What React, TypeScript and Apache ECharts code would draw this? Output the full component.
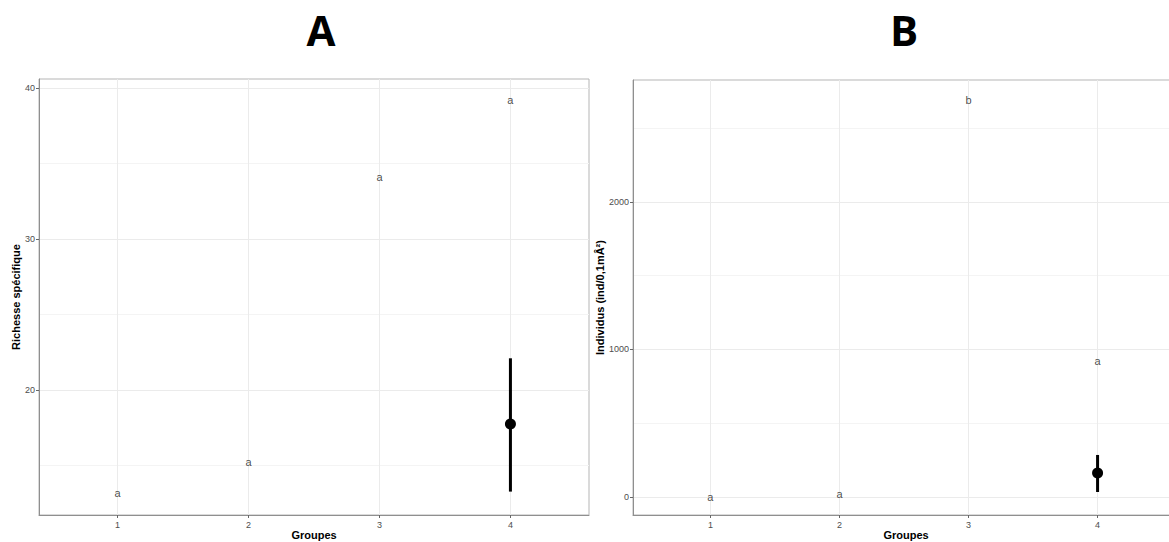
import React, { useEffect, useRef } from "react";
import * as echarts from "echarts";

// Groups on the x axis
const groups = [1, 2, 3, 4];
const xTitle = "Groupes";

// Panel A: species richness
const richLetters = ["a", "a", "a", "a"];
const richLetterY = [13.2, 15.2, 34.1, 39.2];
const richPointGroup = 4;
const richMean = 17.75;
const richLow = 13.27;
const richHigh = 22.1;
const richTicks = [20, 30, 40];
const richMinor = [15, 25, 35];

// Panel B: abundance
const indLetters = ["a", "a", "b", "a"];
const indLetterY = [0, 20, 2690, 920];
const indPointGroup = 4;
const indMean = 163;
const indLow = 34;
const indHigh = 285;
const indTicks = [0, 1000, 2000];
const indMinor = [500, 1500, 2500];

const FONT = "'Liberation Sans', Arial, sans-serif";

export default function App() {
  const ref = useRef<HTMLDivElement>(null);

  useEffect(() => {
    if (!ref.current) return;
    const chart = echarts.init(ref.current, null, { renderer: "svg" });

    const tickLabel = { color: "#4d4d4d", fontSize: 9, fontFamily: FONT, formatter: (v: number) => String(v) };
    const axisTitle = { color: "#000", fontSize: 11, fontWeight: "bold" as const, fontFamily: FONT };
    const borderCol = "#8f8f8f";

    const xAxes = [0, 1].map((i) => ({
      type: "value" as const,
      gridIndex: i,
      min: 0.4,
      max: 4.6,
      axisLine: { show: true, onZero: false, lineStyle: { color: borderCol, width: 1 } },
      axisTick: { show: true, length: 3, customValues: groups, lineStyle: { color: "#666" } },
      axisLabel: { ...tickLabel, customValues: groups, margin: 5 },
      splitLine: { show: true, lineStyle: { color: "#ebebeb", width: 1 } },
    }));

    const majorY = (grid: number, min: number, max: number, ticks: number[], name: string, gap: number) => ({
      type: "value" as const,
      gridIndex: grid,
      min,
      max,
      axisLine: { show: true, onZero: false, lineStyle: { color: borderCol, width: 1 } },
      axisTick: { show: true, length: 3, customValues: ticks, lineStyle: { color: "#666" } },
      axisLabel: { ...tickLabel, customValues: ticks, margin: 4 },
      splitLine: { show: true, lineStyle: { color: "#ebebeb", width: 1 } },
      name,
      nameLocation: "middle" as const,
      nameGap: gap,
      nameTextStyle: axisTitle,
    });

    const minorY = (grid: number, min: number, max: number, ticks: number[]) => ({
      type: "value" as const,
      gridIndex: grid,
      min,
      max,
      position: "left" as const,
      axisLine: { show: false, onZero: false },
      axisTick: { show: false, customValues: ticks },
      axisLabel: { show: false, customValues: ticks },
      splitLine: { show: true, lineStyle: { color: "#f4f4f4", width: 1 } },
    });

    const letterSeries = (xi: number, yi: number, ys: number[], letters: string[]) => ({
      type: "scatter" as const,
      xAxisIndex: xi,
      yAxisIndex: yi,
      symbolSize: 1,
      itemStyle: { color: "rgba(0,0,0,0)" },
      data: groups.map((g, i) => [g, ys[i], letters[i]]),
      label: {
        show: true,
        position: "inside" as const,
        formatter: (p: any) => p.data[2],
        color: "#1a1a1a",
        fontSize: 11,
        fontFamily: FONT,
      },
      z: 5,
    });

    const errSeries = (xi: number, yi: number, g: number, lo: number, hi: number) => ({
      type: "line" as const,
      xAxisIndex: xi,
      yAxisIndex: yi,
      data: [
        [g, lo],
        [g, hi],
      ],
      symbol: "none",
      lineStyle: { color: "#000", width: 3 },
      z: 3,
    });

    const pointSeries = (xi: number, yi: number, g: number, m: number) => ({
      type: "scatter" as const,
      xAxisIndex: xi,
      yAxisIndex: yi,
      data: [[g, m]],
      symbolSize: 11,
      itemStyle: { color: "#000", opacity: 1 },
      z: 4,
    });

    const richMin = 11.72;
    const richMax = 40.6;
    const indMin = -122;
    const indMax = 2827;

    const panelTitle = (text: string, x: number) => ({
      type: "text",
      x,
      y: 29,
      style: { text, fill: "#000", font: "bold 42px 'Open Sans', sans-serif", textAlign: "center", textVerticalAlign: "middle" },
    });
    const xAxisTitle = (x: number) => ({
      type: "text",
      x,
      y: 535,
      style: { text: xTitle, fill: "#000", font: `bold 11px ${FONT}`, textAlign: "center", textVerticalAlign: "middle" },
    });

    chart.setOption({
      animation: false,
      backgroundColor: "#fff",
      grid: [
        { left: 39, top: 79, width: 550, height: 436, outerBoundsMode: "none", show: true, borderColor: "#b5b5b5", borderWidth: 1, backgroundColor: "transparent" },
        { left: 633, top: 80, width: 542, height: 435, outerBoundsMode: "none", show: true, borderColor: "#b5b5b5", borderWidth: 1, backgroundColor: "transparent" },
      ],
      xAxis: xAxes,
      yAxis: [
        majorY(0, richMin, richMax, richTicks, "Richesse spécifique", 18),
        minorY(0, richMin, richMax, richMinor),
        majorY(1, indMin, indMax, indTicks, "Individus (ind/0,1mÂ²)", 21),
        minorY(1, indMin, indMax, indMinor),
      ],
      graphic: [panelTitle("A", 321), panelTitle("B", 904), xAxisTitle(314), xAxisTitle(906)],
      series: [
        letterSeries(0, 0, richLetterY, richLetters),
        errSeries(0, 0, richPointGroup, richLow, richHigh),
        pointSeries(0, 0, richPointGroup, richMean),
        letterSeries(1, 2, indLetterY, indLetters),
        errSeries(1, 2, indPointGroup, indLow, indHigh),
        pointSeries(1, 2, indPointGroup, indMean),
      ],
    });

    return () => chart.dispose();
  }, []);

  return (
    <div
      ref={ref}
      style={{ position: "fixed", left: 0, top: 0, width: 1169, height: 542, background: "#fff" }}
    />
  );
}
